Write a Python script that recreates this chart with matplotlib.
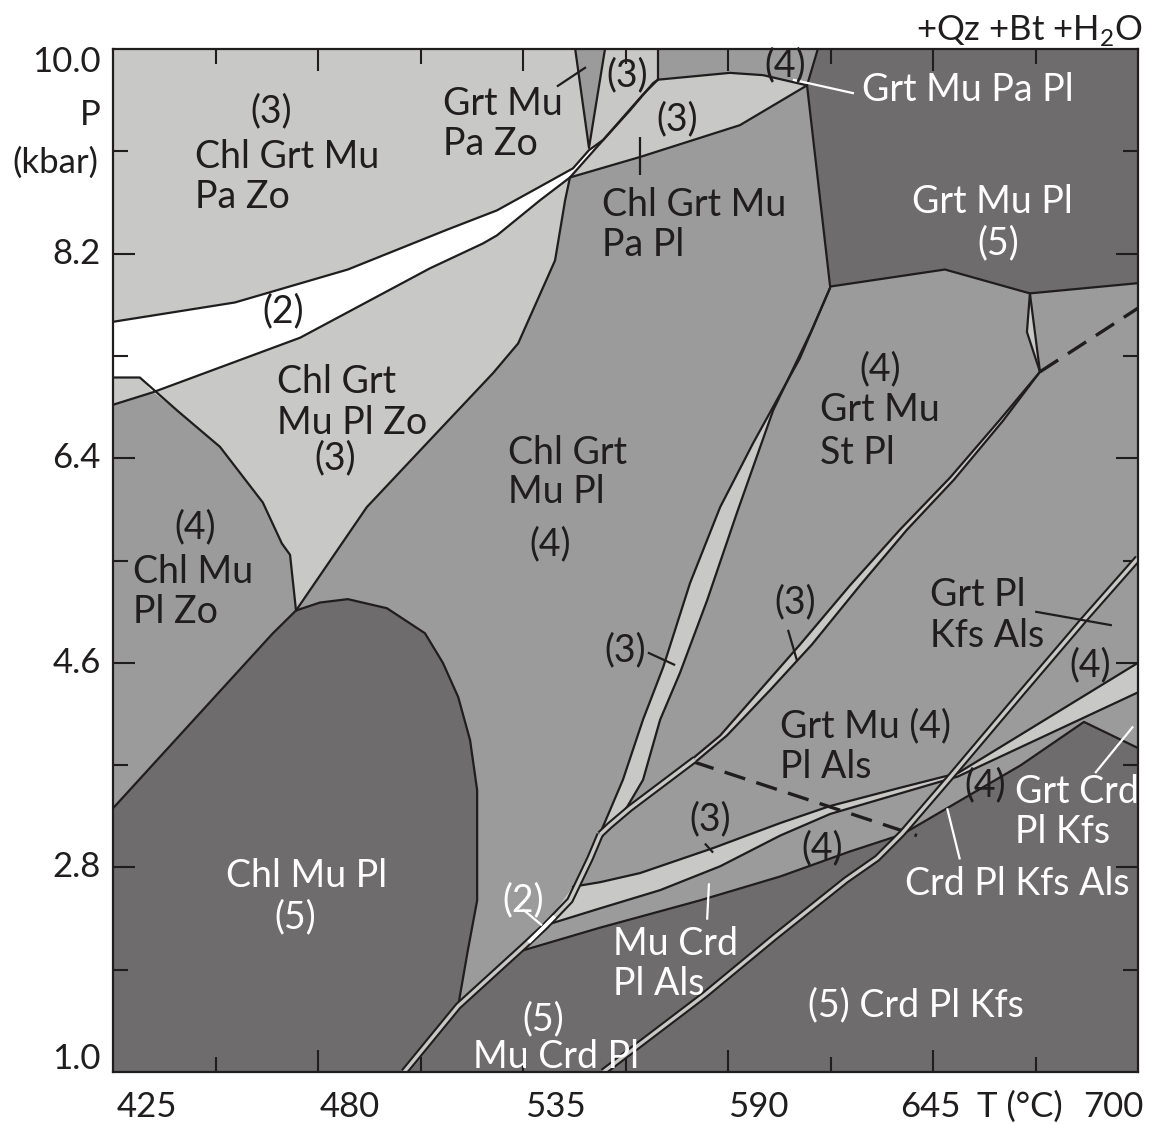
import matplotlib
matplotlib.use("Agg")
import matplotlib.pyplot as plt

plt.rcParams["font.family"] = ["Lato", "DejaVu Sans"]
plt.rcParams["mathtext.fontset"] = "custom"
plt.rcParams["mathtext.rm"] = "Lato"

LIGHT = "#c8c8c6"
MID = "#9b9b9b"
DARK = "#6f6c6d"
INK = "#1f1d1e"
WHITE = "#ffffff"

T_MIN, T_MAX = 425.0, 700.0
P_MIN, P_MAX = 1.0, 10.0

t_labels = ["425", "480", "535", "590", "645", "700"]
p_labels = ["1.0", "2.8", "4.6", "6.4", "8.2", "10.0"]
t_major = [480, 535, 590, 645]
t_minor = [452.5, 507.5, 562.5, 617.5, 672.5]
p_major = [2.8, 4.6, 6.4, 8.2]
p_minor = [1.9, 3.7, 5.5, 7.3, 9.1]

# ---- field boundaries, (T in °C, P in kbar) ----
white_upper = [(425.0, 7.60), (457.7, 7.77), (488.0, 8.06), (514.6, 8.41), (528.0, 8.58),
               (539.6, 8.79), (548.4, 8.95), (552.7, 9.11), (556.5, 9.20), (567.2, 9.60),
               (571.2, 9.73)]
white_lower = [(425.0, 6.87), (435.7, 6.98), (475.2, 7.46), (510.0, 8.07), (524.3, 8.29),
               (528.0, 8.36), (539.6, 8.67), (547.6, 8.87), (554.9, 9.14), (563.7, 9.46),
               (569.9, 9.70), (571.2, 9.73)]
chl_mu_pl_zo_top = [(425.0, 7.11), (432.2, 7.11), (442.2, 6.82), (453.7, 6.50), (465.2, 6.01),
                    (470.3, 5.65), (472.5, 5.55), (474.1, 5.06)]
chl_grt_mu_left = [(547.6, 8.87), (546.3, 8.67), (543.6, 8.14), (533.7, 7.41), (527.0, 7.15),
                   (510.9, 6.59), (493.1, 5.97), (474.1, 5.06)]
pa_pl_top = [(547.6, 8.87), (566.4, 9.05), (593.2, 9.33), (611.2, 9.68)]
top_field_lower = [(571.2, 9.73), (590.5, 9.79), (599.4, 9.77), (611.2, 9.68)]
top_field_left = [(571.2, 10.0), (571.2, 9.73)]
top_field_right = [(611.2, 9.68), (614.1, 10.0)]
pa_zo_wedge = [(549.0, 10.0), (557.0, 10.0), (552.7, 9.13)]
grt_mu_pl_field = [(614.1, 10.0), (700.0, 10.0), (700.0, 7.94), (671.0, 7.85), (648.2, 8.06),
                   (617.4, 7.91), (611.2, 9.68)]
st_sliver = [(671.0, 7.85), (670.2, 7.51), (673.7, 7.16)]
dashed_upper = [(673.7, 7.16), (700.0, 7.72)]
dashed_lower = [(580.6, 3.73), (640.7, 3.08)]

strip_i_left = [(617.4, 7.90), (609.3, 7.28), (596.7, 6.53), (587.9, 5.97), (579.8, 5.30),
                (572.6, 4.56), (567.2, 4.10), (561.8, 3.57), (557.0, 3.20), (554.9, 3.04)]
strip_i_right = [(617.4, 7.90), (612.5, 7.53), (602.1, 6.82), (592.4, 5.92), (584.4, 5.15),
                 (577.1, 4.51), (571.8, 4.10), (567.2, 3.57), (562.9, 3.33), (557.0, 3.11)]

strip_ii_upper = [(673.7, 7.16), (663.0, 6.74), (649.6, 6.23), (636.1, 5.77), (622.7, 5.28),
                  (609.3, 4.76), (598.6, 4.36), (587.9, 3.96), (580.6, 3.76)]
strip_ii_lower = [(673.7, 7.16), (663.8, 6.73), (650.6, 6.21), (638.0, 5.77), (625.4, 5.28),
                  (612.5, 4.76), (601.3, 4.36), (589.7, 3.96), (581.7, 3.74)]
line_ii_tail = [(581.1, 3.75), (571.8, 3.52), (563.7, 3.32), (558.3, 3.17), (555.7, 3.09)]

strip_iii_upper = [(548.4, 2.63), (555.7, 2.67), (566.4, 2.75), (586.0, 2.97), (604.0, 3.19),
                   (617.4, 3.34), (636.1, 3.50), (651.7, 3.63), (700.0, 4.60)]
strip_iii_lower = [(540.9, 2.29), (555.7, 2.44), (571.8, 2.60), (587.9, 2.81), (604.0, 3.08),
                   (617.4, 3.27), (636.1, 3.45), (651.7, 3.60), (700.0, 4.34)]

line_a = [(503.1, 1.0), (517.6, 1.58), (535.0, 2.10), (540.9, 2.28), (547.6, 2.51),
          (553.0, 2.88), (555.7, 3.09)]
field_2_sliver = [(536.5, 2.14), (543.5, 2.37)]

crd_field_top = [(535.0, 2.07), (555.7, 2.27), (582.5, 2.51), (604.0, 2.72), (622.7, 2.94),
                 (636.7, 3.09), (668.6, 3.70), (685.5, 4.08), (700.0, 3.85)]

chl_mu_pl_field = [(425.0, 3.32), (467.9, 4.86), (474.1, 5.06), (480.5, 5.13), (488.0, 5.16),
                   (498.5, 5.08), (508.7, 4.86), (513.5, 4.60), (517.6, 4.30), (520.8, 3.92),
                   (522.7, 3.48), (522.7, 2.51), (520.2, 2.07), (517.6, 1.58)]

line_iv = [(556.5, 1.0), (583.8, 1.68), (602.6, 2.19), (621.7, 2.69), (630.0, 2.88),
           (636.7, 3.10), (649.8, 3.60), (668.6, 4.33), (685.5, 4.98), (700.0, 5.52)]

# pointer lines: (start, end, colour)
pointers = [
    ((544.1, 9.67), (551.9, 9.84), INK),
    ((566.4, 9.23), (566.4, 8.89), INK),
    ((607.4, 9.73), (623.8, 9.61), WHITE),
    ((568.5, 4.69), (575.8, 4.58), INK),
    ((606.1, 4.89), (608.5, 4.62), INK),
    ((672.4, 5.05), (693.0, 4.93), INK),
    ((583.8, 3.01), (586.0, 2.93), INK),
    ((584.9, 2.66), (584.4, 2.34), WHITE),
    ((652.2, 2.87), (648.8, 3.32), WHITE),
    ((688.5, 3.63), (698.7, 4.04), WHITE),
    ((535.0, 2.43), (540.1, 2.29), WHITE),
]

# field labels: (text, T, P, horizontal alignment, colour)
labels = [
    ("(3)", 467.4, 9.45, "center", INK),
    ("Chl Grt Mu", 447.0, 9.05, "left", INK),
    ("Pa Zo", 447.0, 8.70, "left", INK),
    ("Grt Mu", 513.5, 9.52, "left", INK),
    ("Pa Zo", 513.5, 9.16, "left", INK),
    ("(3)", 562.9, 9.77, "center", INK),
    ("(4)", 605.3, 9.86, "center", INK),
    ("Grt Mu Pa Pl", 625.9, 9.64, "left", WHITE),
    ("(3)", 576.3, 9.38, "center", INK),
    ("Chl Grt Mu", 556.2, 8.63, "left", INK),
    ("Pa Pl", 556.2, 8.28, "left", INK),
    ("Grt Mu Pl", 639.4, 8.65, "left", WHITE),
    ("(5)", 662.4, 8.29, "center", WHITE),
    ("(2)", 470.6, 7.69, "center", INK),
    ("Chl Grt", 469.0, 7.07, "left", INK),
    ("Mu Pl Zo", 469.0, 6.71, "left", INK),
    ("(3)", 484.6, 6.40, "center", INK),
    ("(4)", 630.8, 7.18, "center", INK),
    ("Grt Mu", 614.7, 6.82, "left", INK),
    ("St Pl", 614.7, 6.45, "left", INK),
    ("Chl Grt", 531.0, 6.45, "left", INK),
    ("Mu Pl", 531.0, 6.10, "left", INK),
    ("(4)", 542.2, 5.64, "center", INK),
    ("(4)", 447.0, 5.79, "center", INK),
    ("Chl Mu", 430.4, 5.40, "left", INK),
    ("Pl Zo", 430.4, 5.05, "left", INK),
    ("(3)", 608.0, 5.13, "center", INK),
    ("(3)", 562.4, 4.71, "center", INK),
    ("Grt Pl", 644.2, 5.20, "left", INK),
    ("Kfs Als", 644.2, 4.84, "left", INK),
    ("(4)", 687.1, 4.58, "center", INK),
    ("Grt Mu (4)", 604.0, 4.04, "left", INK),
    ("Pl Als", 604.0, 3.68, "left", INK),
    ("(3)", 585.2, 3.22, "center", INK),
    ("(4)", 659.0, 3.52, "center", INK),
    ("Grt Crd", 667.0, 3.46, "left", WHITE),
    ("Pl Kfs", 667.0, 3.11, "left", WHITE),
    ("(4)", 615.2, 2.97, "center", INK),
    ("Chl Mu Pl", 476.9, 2.72, "center", WHITE),
    ("(5)", 473.8, 2.36, "center", WHITE),
    ("Crd Pl Kfs Als", 637.5, 2.65, "left", WHITE),
    ("(2)", 535.0, 2.51, "center", WHITE),
    ("Mu Crd", 559.1, 2.13, "left", WHITE),
    ("Pl Als", 559.1, 1.77, "left", WHITE),
    ("(5)", 540.4, 1.46, "center", WHITE),
    ("Mu Crd Pl", 521.6, 1.13, "left", WHITE),
    ("(5) Crd Pl Kfs", 611.5, 1.59, "left", WHITE),
]

FS = 27
FS_AXIS = 25
LW = 1.6


def xy(points):
    return [p[0] for p in points], [p[1] for p in points]


def fill(ax, points, colour, z=1):
    t, p = xy(points)
    ax.fill(t, p, color=colour, lw=0, zorder=z)


def edge(ax, points, z=3, **kw):
    t, p = xy(points)
    ax.plot(t, p, color=kw.pop("color", INK), lw=kw.pop("lw", LW), zorder=z,
            solid_joinstyle="round", solid_capstyle="round", **kw)


def double_line(ax, points, inner=LIGHT, z=4):
    t, p = xy(points)
    ax.plot(t, p, color=INK, lw=5.4, zorder=z, solid_joinstyle="round", solid_capstyle="butt")
    ax.plot(t, p, color=inner, lw=2.4, zorder=z + 0.1, solid_joinstyle="round",
            solid_capstyle="butt")


fig = plt.figure(figsize=(11.53, 11.24), dpi=100)
ax = fig.add_axes([113 / 1153, 52 / 1124, 1025 / 1153, 1023 / 1124])
ax.set_xlim(T_MIN, T_MAX)
ax.set_ylim(P_MIN, P_MAX)
ax.set_facecolor(MID)

# light field covering the Zo / Pa side of the diagram
light_field = ([(T_MIN, P_MAX), top_field_left[0]] + top_field_lower + pa_pl_top[::-1][1:]
               + chl_grt_mu_left[1:] + chl_mu_pl_zo_top[::-1][1:6] + white_lower[1::-1])
fill(ax, light_field, LIGHT)

white_field = (white_upper + white_lower[1:][::-1] + chl_mu_pl_zo_top[1::-1])
fill(ax, white_field, WHITE, z=1.2)
fill(ax, pa_zo_wedge, MID, z=1.3)
fill(ax, grt_mu_pl_field, DARK, z=1.3)
fill(ax, st_sliver, LIGHT, z=1.3)

fill(ax, chl_mu_pl_field + line_a[:2][::-1] + [(T_MIN, P_MIN)], DARK, z=1.3)
fill(ax, line_a[:2] + crd_field_top + [(T_MAX, P_MIN)], DARK, z=1.3)

fill(ax, strip_i_left + strip_i_right[::-1], LIGHT, z=1.5)
fill(ax, strip_ii_upper + strip_ii_lower[::-1], LIGHT, z=1.5)
fill(ax, strip_iii_upper + strip_iii_lower[::-1], LIGHT, z=1.5)

# boundary lines
for line in (white_upper, white_lower, chl_mu_pl_zo_top, chl_grt_mu_left, pa_pl_top,
             top_field_lower, top_field_left, top_field_right, chl_mu_pl_field,
             crd_field_top, strip_i_left, strip_i_right, strip_ii_upper, strip_ii_lower,
             strip_iii_upper, strip_iii_lower, st_sliver):
    edge(ax, line)
edge(ax, grt_mu_pl_field[2:])
edge(ax, pa_zo_wedge[1:] + pa_zo_wedge[:1])
edge(ax, [st_sliver[0], st_sliver[-1]])

for line in (dashed_upper, dashed_lower):
    t, p = xy(line)
    ax.plot(t, p, color=INK, lw=2.4, ls=(0, (6.5, 3.5)), zorder=3, solid_capstyle="butt",
            dash_capstyle="butt")

double_line(ax, line_a)
double_line(ax, line_ii_tail)
double_line(ax, line_iv)
t, p = xy(field_2_sliver)
ax.plot(t, p, color=WHITE, lw=2.6, zorder=4.5, solid_capstyle="butt")

for (a, b, c) in pointers:
    ax.plot([a[0], b[0]], [a[1], b[1]], color=c, lw=LW, zorder=5, solid_capstyle="butt")

for (s, t, p, ha, c) in labels:
    ax.text(t, p, s, ha=ha, va="center", fontsize=FS, color=c, zorder=6)

# frame and ticks
for sp in ax.spines.values():
    sp.set_linewidth(1.6)
    sp.set_color(INK)
    sp.set_zorder(7)
ax.set_xticks(t_major)
ax.set_xticks(t_minor, minor=True)
ax.set_yticks(p_major)
ax.set_yticks(p_minor, minor=True)
ax.tick_params(which="both", direction="in", top=True, right=True, colors=INK, width=1.5,
               labelbottom=False, labelleft=False)
ax.tick_params(which="major", length=16)
ax.tick_params(which="minor", length=11)

# axis annotation
t_label_shift = [9.1, 8.6, 8.6, 8.0, -0.8, -6.7]
for s, shift in zip(t_labels, t_label_shift):
    ax.text(float(s) + shift, -0.034, s, transform=ax.get_xaxis_transform(),
            ha="center", va="center", fontsize=FS_AXIS, color=INK, clip_on=False)
ax.text(668.3, -0.034, "T (°C)", transform=ax.get_xaxis_transform(),
        ha="center", va="center", fontsize=FS_AXIS, color=INK, clip_on=False)

p_label_shift = [0.11, 0, 0, 0, 0, -0.115]
for s, shift in zip(p_labels, p_label_shift):
    ax.text(-0.012, float(s) + shift, s, transform=ax.get_yaxis_transform(),
            ha="right", va="center", fontsize=FS_AXIS, color=INK, clip_on=False)
ax.text(-0.012, 9.42, "P", transform=ax.get_yaxis_transform(),
        ha="right", va="center", fontsize=FS_AXIS, color=INK, clip_on=False)
ax.text(-0.014, 9.00, "(kbar)", transform=ax.get_yaxis_transform(),
        ha="right", va="center", fontsize=FS_AXIS, color=INK, clip_on=False)

ax.text(1.005, 1.018, r"+Qz +Bt +H$_{\mathrm{2}}$O", transform=ax.transAxes,
        ha="right", va="center", fontsize=FS_AXIS, color=INK, clip_on=False)

fig.savefig("out.png", dpi=100, facecolor="white")
